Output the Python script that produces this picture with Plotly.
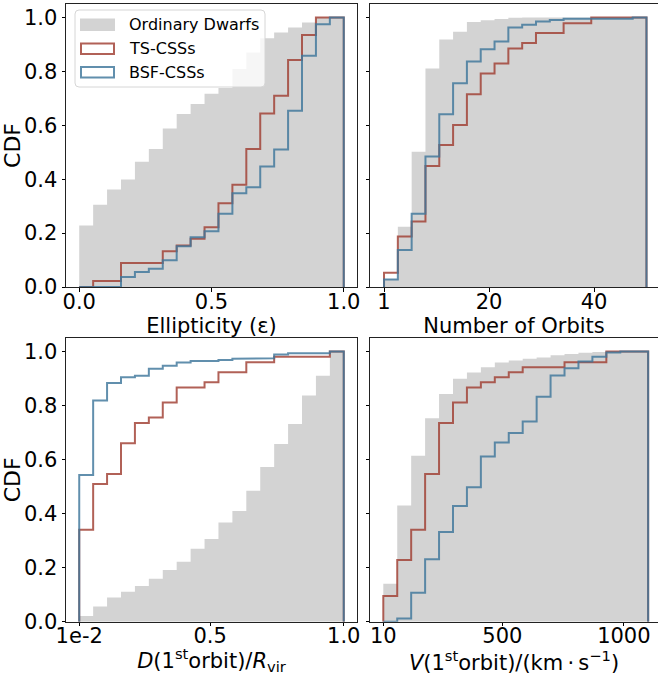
import numpy as np
import plotly.graph_objects as go

# ---------------- data (CDF per histogram bin, 19 bins per panel) ----------------
N_BINS = 19

# Panel 1: Ellipticity
ell_range = (0.0, 1.0)
ell_dwarfs = [0.228, 0.305, 0.362, 0.399, 0.465, 0.512, 0.588, 0.642, 0.679, 0.717,
              0.738, 0.809, 0.870, 0.923, 0.944, 0.963, 0.981, 1.0, 1.0]
ell_ts = [0.0, 0.022, 0.022, 0.089, 0.089, 0.089, 0.133, 0.154, 0.179, 0.222,
          0.311, 0.379, 0.512, 0.644, 0.710, 0.842, 0.935, 1.0, 1.0]
ell_bsf = [0.0, 0.0, 0.0, 0.037, 0.056, 0.068, 0.099, 0.151, 0.185, 0.207,
           0.272, 0.348, 0.370, 0.447, 0.510, 0.654, 0.858, 0.975, 1.0]

# Panel 2: Number of orbits
orb_range = (0.0, 50.0)
orb_dwarfs = [0.03, 0.224, 0.502, 0.811, 0.918, 0.947, 0.983, 0.990, 0.994, 0.999,
              1.0, 1.0, 1.0, 1.0, 1.0, 1.0, 1.0, 1.0, 1.0]
orb_ts = [0.053, 0.187, 0.243, 0.449, 0.527, 0.601, 0.715, 0.792, 0.829, 0.885,
          0.905, 0.942, 0.942, 0.979, 0.979, 1.0, 1.0, 1.0, 1.0]
orb_bsf = [0.028, 0.137, 0.272, 0.484, 0.641, 0.756, 0.837, 0.882, 0.911, 0.963,
           0.973, 0.985, 0.991, 0.995, 0.995, 0.995, 0.995, 0.995, 1.0]

# Panel 3: Distance at 1st orbit / Rvir
dist_range = (0.01, 1.0)
dist_dwarfs = [0.021, 0.056, 0.090, 0.111, 0.132, 0.159, 0.191, 0.222, 0.270, 0.306,
               0.367, 0.410, 0.485, 0.573, 0.658, 0.732, 0.837, 0.910, 1.0]
dist_ts = [0.340, 0.510, 0.547, 0.660, 0.735, 0.756, 0.811, 0.867, 0.867, 0.886,
           0.923, 0.923, 0.960, 0.960, 0.981, 0.981, 0.981, 0.981, 1.0]
dist_bsf = [0.543, 0.819, 0.883, 0.905, 0.910, 0.936, 0.947, 0.959, 0.965, 0.965,
            0.969, 0.973, 0.975, 0.975, 0.989, 0.994, 0.994, 0.994, 1.0]

# Panel 4: Velocity at 1st orbit
vel_range = (10.0, 1100.0)
vel_dwarfs = [0.140, 0.430, 0.614, 0.753, 0.843, 0.899, 0.922, 0.942, 0.959, 0.967,
              0.973, 0.978, 0.986, 0.991, 0.995, 0.998, 1.0, 1.0, 1.0]
vel_ts = [0.095, 0.228, 0.340, 0.547, 0.735, 0.811, 0.867, 0.886, 0.905, 0.923,
          0.942, 0.942, 0.942, 0.960, 0.960, 0.960, 1.0, 1.0, 1.0]
vel_bsf = [0.0, 0.012, 0.107, 0.231, 0.332, 0.428, 0.498, 0.611, 0.663, 0.698,
           0.741, 0.833, 0.911, 0.938, 0.963, 0.981, 0.996, 1.0, 1.0]

series_names = ["Ordinary Dwarfs", "TS-CSSs", "BSF-CSSs"]

x_titles = ["Ellipticity (\u03b5)", "Number of Orbits",
            "<i>D</i>(1<sup>st</sup>orbit)/<i>R</i><sub>vir</sub>",
            "<i>V</i>(1<sup>st</sup>orbit)/(km\u2009\u00b7\u2009s<sup>\u22121</sup>)"]
x_tickvals = [[0.0, 0.5, 1.0], [0, 20, 40], [0.01, 0.5, 1.0], [10, 500, 1000]]
x_ticktext = [["0.0", "0.5", "1.0"], ["1", "20", "40"], ["1e-2", "0.5", "1.0"],
              ["10", "500", "1000"]]
y_tickvals = [0.0, 0.2, 0.4, 0.6, 0.8, 1.0]
y_ticktext = ["0.0", "0.2", "0.4", "0.6", "0.8", "1.0"]

panels = [
    (ell_range, ell_dwarfs, ell_ts, ell_bsf),
    (orb_range, orb_dwarfs, orb_ts, orb_bsf),
    (dist_range, dist_dwarfs, dist_ts, dist_bsf),
    (vel_range, vel_dwarfs, vel_ts, vel_bsf),
]

# ---------------- styling ----------------
W, H = 658, 675
FONT = "DejaVu Sans"
GRAY = "#d3d3d3"
RED = "rgba(160,62,50,0.82)"
BLUE = "rgba(62,118,155,0.82)"
colors = [GRAY, RED, BLUE]


def step_outline(edges, vals):
    xs, ys = [edges[0]], [0.0]
    for i, v in enumerate(vals):
        xs += [edges[i], edges[i + 1]]
        ys += [v, v]
    xs.append(edges[-1])
    ys.append(0.0)
    return xs, ys


# pixel geometry of the four panels
px_x = [(66, 357), (370, 658), (66, 357), (370, 658)]
px_y = [(4, 287), (4, 287), (338, 621.7), (338, 621.7)]
x_ranges = [[-0.05, 1.05], [-2.67, 52.19], [-0.0395, 1.0495], [-44.7, 1140.5]]

fig = go.Figure()
for k, (rng, dw, ts, bsf) in enumerate(panels):
    edges = list(np.linspace(rng[0], rng[1], N_BINS + 1))
    xa = "x" if k == 0 else f"x{k+1}"
    ya = "y" if k == 0 else f"y{k+1}"
    gx, gy = step_outline(edges, dw)
    fig.add_trace(go.Scatter(x=gx, y=gy, xaxis=xa, yaxis=ya, mode="lines",
                             fill="toself", fillcolor=GRAY, line=dict(width=0, color=GRAY),
                             name=series_names[0], showlegend=False, hoverinfo="skip"))
    for vals, col, nm in [(ts, RED, series_names[1]), (bsf, BLUE, series_names[2])]:
        sx, sy = step_outline(edges, vals)
        fig.add_trace(go.Scatter(x=sx, y=sy, xaxis=xa, yaxis=ya, mode="lines",
                                 line=dict(width=2, color=col),
                                 name=nm, showlegend=False, hoverinfo="skip"))

layout = dict(width=W, height=H, margin=dict(l=0, r=0, t=0, b=0, autoexpand=False),
              paper_bgcolor="white", plot_bgcolor="white",
              font=dict(family=FONT, size=21, color="black"),
              showlegend=False)

for k in range(4):
    xn = "xaxis" if k == 0 else f"xaxis{k+1}"
    yn = "yaxis" if k == 0 else f"yaxis{k+1}"
    ya = "y" if k == 0 else f"y{k+1}"
    xa = "x" if k == 0 else f"x{k+1}"
    x0, x1 = px_x[k]
    y0, y1 = px_y[k]
    layout[xn] = dict(domain=[x0 / W, x1 / W], anchor=ya, range=x_ranges[k],
                      tickvals=x_tickvals[k], ticktext=x_ticktext[k],
                      ticks="outside", ticklen=3.5, tickcolor="black",
                      ticklabelstandoff=-8,
                      showline=True, mirror=True, linecolor="#222222", linewidth=1,
                      showgrid=False, zeroline=False, automargin=False,
                      tickfont=dict(size=21),
                      title=dict(text=x_titles[k], font=dict(size=21), standoff=0))
    ydict = dict(domain=[1 - y1 / H, 1 - y0 / H], anchor=xa, range=[0, 1.05],
                 tickvals=y_tickvals, ticktext=y_ticktext,
                 ticks="outside", ticklen=3.5, tickcolor="black",
                 showticklabels=(k % 2 == 0),
                 showline=True, mirror=True, linecolor="#222222", linewidth=1,
                 showgrid=False, zeroline=False, automargin=False,
                 tickfont=dict(size=21))
    if k % 2 == 0:
        ydict["title"] = dict(text="CDF", font=dict(size=22), standoff=2)
    layout[yn] = ydict

# legend drawn as paper shapes + text (outlined patches like the original)
LX0, LY0, LX1, LY1 = 75, 10, 265, 87
r = 4
box_path = (f"M{(LX0 + r) / W},{1 - LY0 / H} L{(LX1 - r) / W},{1 - LY0 / H} "
            f"Q{LX1 / W},{1 - LY0 / H} {LX1 / W},{1 - (LY0 + r) / H} "
            f"L{LX1 / W},{1 - (LY1 - r) / H} Q{LX1 / W},{1 - LY1 / H} {(LX1 - r) / W},{1 - LY1 / H} "
            f"L{(LX0 + r) / W},{1 - LY1 / H} Q{LX0 / W},{1 - LY1 / H} {LX0 / W},{1 - (LY1 - r) / H} "
            f"L{LX0 / W},{1 - (LY0 + r) / H} Q{LX0 / W},{1 - LY0 / H} {(LX0 + r) / W},{1 - LY0 / H} Z")
shapes = [dict(type="path", xref="paper", yref="paper", path=box_path,
               fillcolor="rgba(255,255,255,0.8)", line=dict(color="#d6d6d6", width=1))]
annotations = []
row_centers = [24.7, 48.8, 72.2]
for i, (nm, col) in enumerate(zip(series_names, colors)):
    cy = row_centers[i]
    if i == 0:
        shapes.append(dict(type="rect", xref="paper", yref="paper",
                           x0=80 / W, x1=115 / W, y0=1 - (cy - 6.2) / H, y1=1 - (cy + 6.2) / H,
                           fillcolor=GRAY, line=dict(width=0)))
    else:
        shapes.append(dict(type="rect", xref="paper", yref="paper",
                           x0=81 / W, x1=114 / W, y0=1 - (cy - 5.3) / H, y1=1 - (cy + 5.3) / H,
                           fillcolor="rgba(0,0,0,0)", line=dict(width=2, color=col)))
    annotations.append(dict(text=nm, xref="paper", yref="paper", x=127 / W, y=1 - cy / H,
                            xanchor="left", yanchor="middle", showarrow=False,
                            font=dict(size=16, family=FONT, color="black")))
layout["shapes"] = shapes
layout["annotations"] = annotations

fig.update_layout(**layout)
fig.write_html("out.html", config={"displayModeBar": False},
               post_script="document.body.style.margin='0';")
